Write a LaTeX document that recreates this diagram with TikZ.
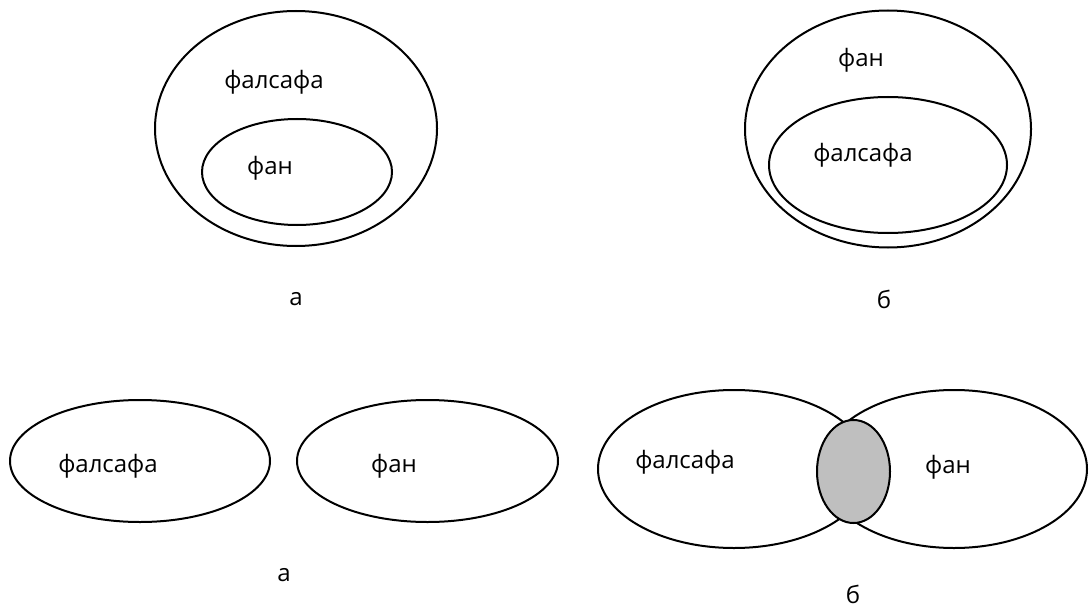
\documentclass[tikz,border=0pt]{standalone}
\usepackage{fontspec}
\setmainfont{Open Sans}
\tikzset{>=latex}
\tikzset{lbl/.style={font=\fontsize{24}{28}\selectfont, inner sep=0pt}}

\begin{document}
\begin{tikzpicture}[x=1pt, y=-1pt, line join = round, line width=2pt]
    \useasboundingbox (0,0) rectangle (1089,607);

    % top left
    \draw[] (296,128.5) ellipse (141 and 117.5);
    \draw[] (297,172) ellipse (95 and 53);
    \node[lbl] (falsafaA) at (274,82) {фалсафа};
    \node[lbl] (fanA) at (270,168) {фан};
    \node[lbl] (capA) at (296,299) {а};

    % top right
    \draw[] (888,129) ellipse (143 and 118.5);
    \draw[] (888,165) ellipse (119 and 68);
    \node[lbl] (fanB) at (861,60) {фан};
    \node[lbl] (falsafaB) at (863,155) {фалсафа};
    \node[lbl] (capB) at (884,299) {б};

    % bottom left
    \draw[] (140,461) ellipse (130 and 61);
    \draw[] (427.5,461) ellipse (130.5 and 61);
    \node[lbl] (falsafaC) at (108,466) {фалсафа};
    \node[lbl] (fanC) at (394,466) {фан};
    \node[lbl] (capC) at (284,575) {а};

    % bottom right
    \draw[] (734,469) ellipse (136 and 79);
    \draw[] (954,469) ellipse (133 and 79);
    \draw[fill=black!25!white] (853.5,471.5) ellipse (36.5 and 51.5);
    \node[lbl] (falsafaD) at (685,462) {фалсафа};
    \node[lbl] (fanD) at (948,467) {фан};
    \node[lbl] (capD) at (853,594) {б};
\end{tikzpicture}
\end{document}
